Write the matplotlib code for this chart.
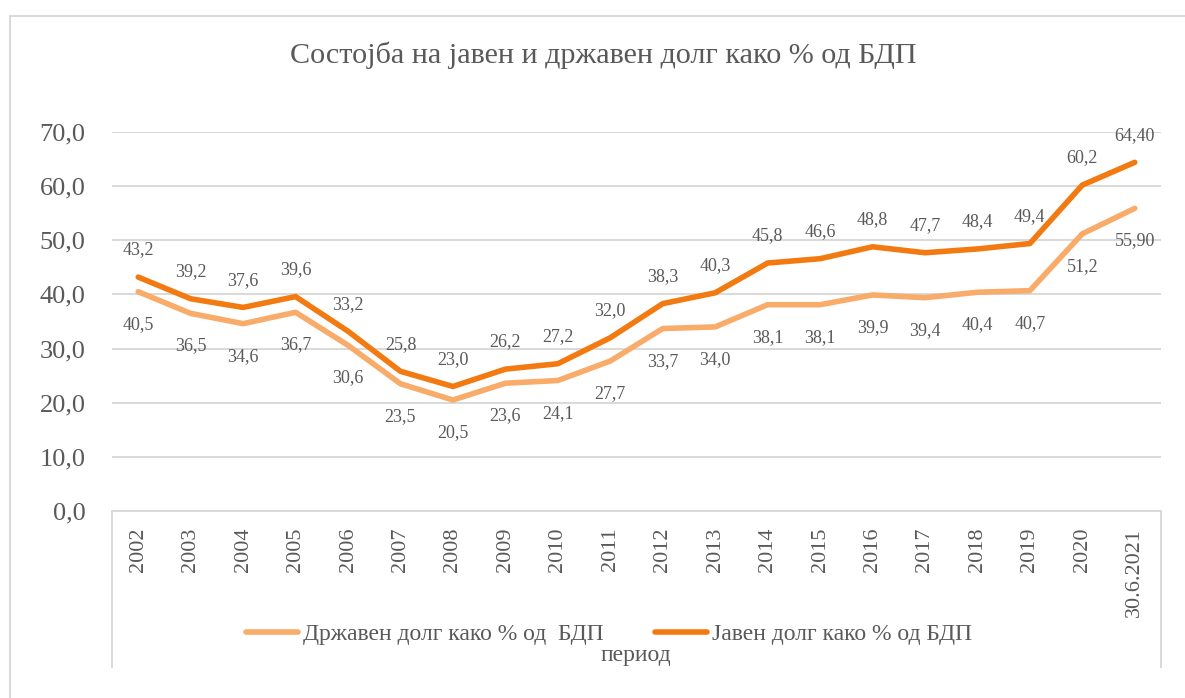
import numpy as np
import matplotlib
matplotlib.use('Agg')
import matplotlib.pyplot as plt
from matplotlib.lines import Line2D


years = ['2002', '2003', '2004', '2005', '2006', '2007', '2008', '2009', '2010', '2011',
         '2012', '2013', '2014', '2015', '2016', '2017', '2018', '2019', '2020', '30.6.2021']
state_debt = [40.5, 36.5, 34.6, 36.7, 30.6, 23.5, 20.5, 23.6, 24.1, 27.7,
              33.7, 34.0, 38.1, 38.1, 39.9, 39.4, 40.4, 40.7, 51.2, 55.90]
public_debt = [43.2, 39.2, 37.6, 39.6, 33.2, 25.8, 23.0, 26.2, 27.2, 32.0,
               38.3, 40.3, 45.8, 46.6, 48.8, 47.7, 48.4, 49.4, 60.2, 64.40]
state_labels = ['40,5', '36,5', '34,6', '36,7', '30,6', '23,5', '20,5', '23,6', '24,1', '27,7',
                '33,7', '34,0', '38,1', '38,1', '39,9', '39,4', '40,4', '40,7', '51,2', '55,90']
public_labels = ['43,2', '39,2', '37,6', '39,6', '33,2', '25,8', '23,0', '26,2', '27,2', '32,0',
                 '38,3', '40,3', '45,8', '46,6', '48,8', '47,7', '48,4', '49,4', '60,2', '64,40']
yticks = [0, 10, 20, 30, 40, 50, 60, 70]

plt.rcParams['font.family'] = ['Liberation Serif', 'DejaVu Serif']
text_col = '#595959'
grid_col = '#D9D9D9'
light = '#F9AB69'
dark = '#F27A10'

W, H = 1185, 698
fig = plt.figure(figsize=(W / 100, H / 100), dpi=100)
ax = fig.add_axes([112 / W, 1 - 511 / H, (1161 - 112) / W, (511 - 132) / H])

x = np.arange(len(years))
l1, = ax.plot(x, state_debt, color=light, lw=4, solid_joinstyle='round', solid_capstyle='round',
              label='Државен долг како % од  БДП')
l2, = ax.plot(x, public_debt, color=dark, lw=4, solid_joinstyle='round', solid_capstyle='round',
              label='Јавен долг како % од БДП')

for i in range(len(years)):
    ax.annotate(public_labels[i], (x[i], public_debt[i]), xytext=(0, 19.5), textcoords='offset points',
                ha='center', va='center', fontsize=13, color=text_col, annotation_clip=False)
    ax.annotate(state_labels[i], (x[i], state_debt[i]), xytext=(0, -23.5), textcoords='offset points',
                ha='center', va='center', fontsize=13, color=text_col, annotation_clip=False)

ax.set_xlim(-0.5, len(years) - 0.5)
ax.set_ylim(0, 70)
ax.set_yticks(yticks)
ax.set_yticklabels([f'{v:.1f}'.replace('.', ',') for v in yticks])
ax.set_xticks(x)
ax.set_xticklabels(years, rotation=90, va='top')
ax.tick_params(axis='y', length=0, pad=19, labelsize=19, labelcolor=text_col)
ax.tick_params(axis='x', length=0, pad=12, labelsize=16, labelcolor=text_col)
ax.grid(axis='y', color=grid_col, lw=1.4)
ax.set_axisbelow(True)
for s in ['left', 'right', 'top']:
    ax.spines[s].set_visible(False)
ax.spines['bottom'].set_color(grid_col)
ax.spines['bottom'].set_linewidth(1.4)

# box round the category labels
drop = -(667 - 511) / (511 - 132)
for xx in (0, 1):
    ax.plot([xx, xx], [0, drop], transform=ax.transAxes, color=grid_col, lw=1.4, clip_on=False)

# outer chart frame
fig.add_artist(Line2D([10 / W, 10 / W], [0, 1 - 16 / H], color=grid_col, lw=1.4))
fig.add_artist(Line2D([10 / W, 1], [1 - 16 / H, 1 - 16 / H], color=grid_col, lw=1.4))

fig.text(603 / W, 1 - 55 / H, 'Состојба на јавен и државен долг како % од БДП',
         ha='center', va='center', fontsize=21.7, color=text_col)
fig.text(636 / W, 1 - 655 / H, 'период', ha='center', va='center', fontsize=17, color=text_col)

fig.legend(handles=[l1, l2], loc='center', bbox_to_anchor=(609 / W, 1 - 634 / H), ncol=2,
           frameon=False, fontsize=17, labelcolor=text_col, handlelength=2.2,
           handletextpad=0.2, columnspacing=2.2)

fig.savefig('out.png', dpi=100)
